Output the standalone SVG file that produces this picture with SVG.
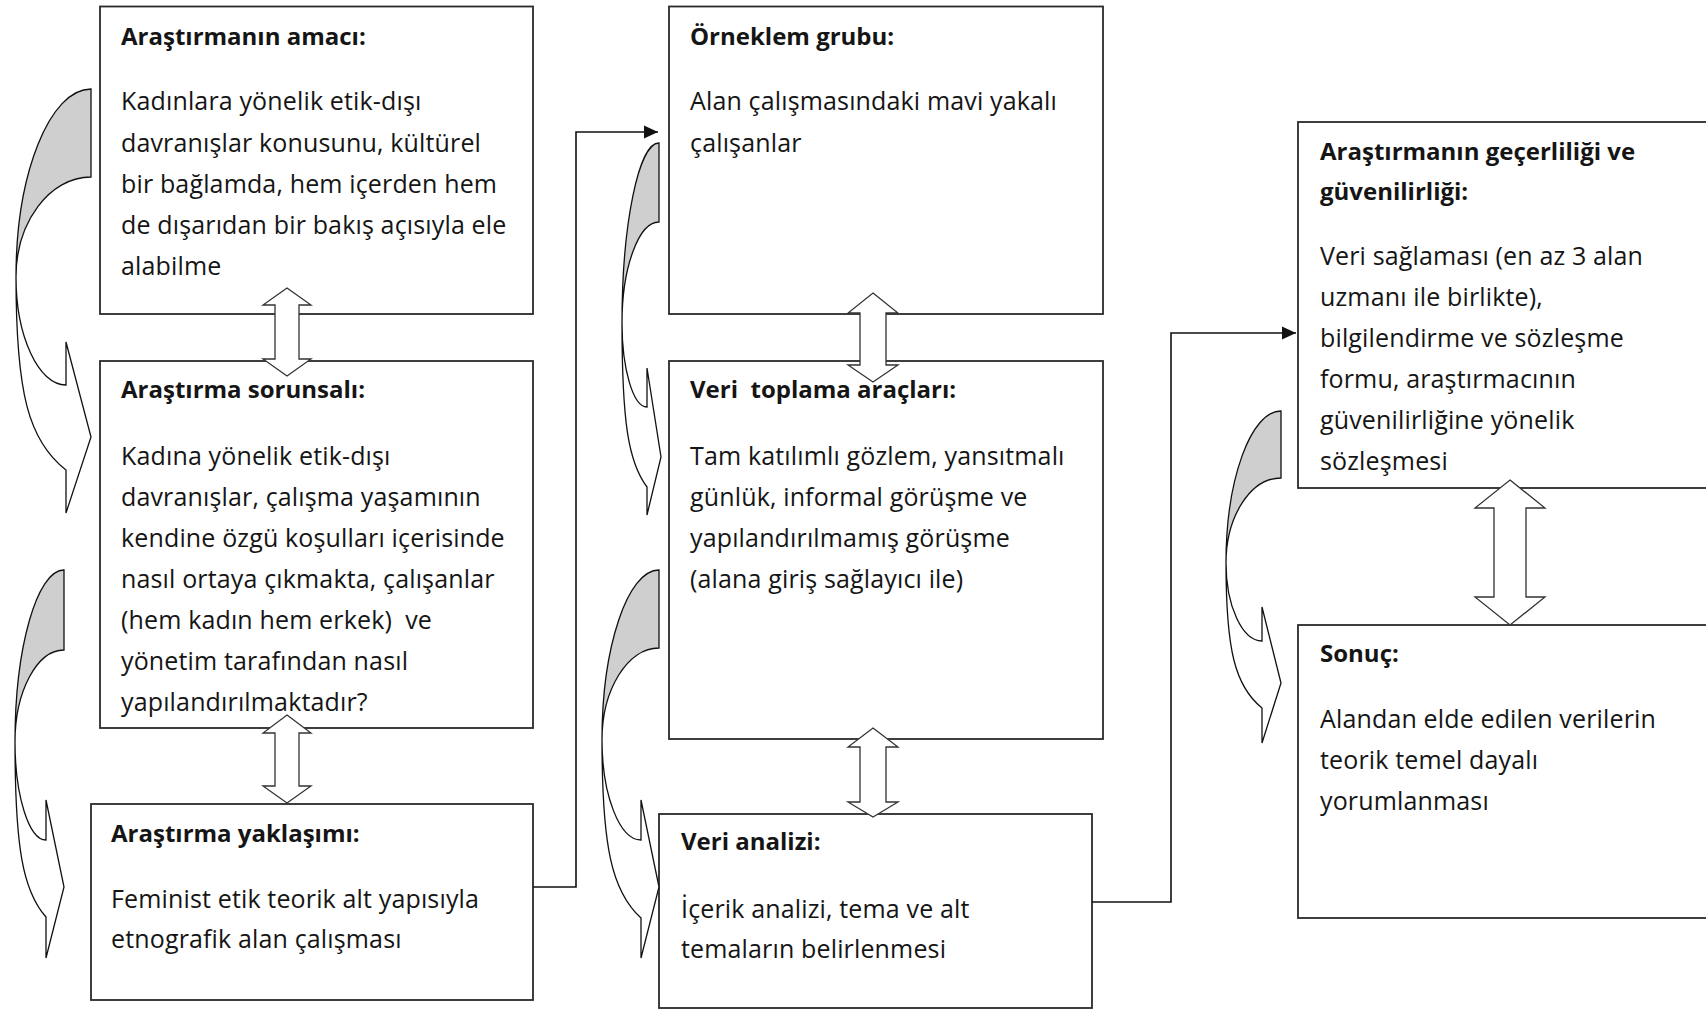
<svg xmlns="http://www.w3.org/2000/svg" width="1706" height="1010" viewBox="0 0 1706 1010">
<defs>
<style>
.box{fill:#fff;stroke:#2a2a2a;stroke-width:1.8}
.t{font-family:"Open Sans","Noto Sans",sans-serif;font-size:25px;letter-spacing:0.15px;fill:#151515;white-space:pre}
.b{font-weight:bold;font-size:24px;letter-spacing:0}
.dbl{fill:#fff;stroke:#333;stroke-width:1.3;stroke-linejoin:miter}
.cg{fill:#cfcfcf;stroke:#111;stroke-width:1.3}
.cw{fill:#fff;stroke:#111;stroke-width:1.3}
.ln{fill:none;stroke:#111;stroke-width:1.6}
</style>
<marker id="ah" markerUnits="userSpaceOnUse" markerWidth="14" markerHeight="14" refX="14" refY="7" orient="auto">
<path d="M0,0.5 L14,7 L0,13.5 Z" fill="#111"/>
</marker>
</defs>
<rect width="1706" height="1010" fill="#fff"/>

<g id="n1">
<rect class="box" x="100" y="6.5" width="433" height="307.5"/>
<text class="t b" x="121" y="45">Araştırmanın amacı:</text>
<text class="t" x="121" y="110">Kadınlara yönelik etik-dışı</text>
<text class="t" x="121" y="151.5">davranışlar konusunu, kültürel</text>
<text class="t" x="121" y="193">bir bağlamda, hem içerden hem</text>
<text class="t" x="121" y="234">de dışarıdan bir bakış açısıyla ele</text>
<text class="t" x="121" y="275">alabilme</text>
</g>
<g id="n2">
<rect class="box" x="100" y="361" width="433" height="367"/>
<text class="t b" x="121" y="398">Araştırma sorunsalı:</text>
<text class="t" x="121" y="465">Kadına yönelik etik-dışı</text>
<text class="t" x="121" y="506">davranışlar, çalışma yaşamının</text>
<text class="t" x="121" y="547">kendine özgü koşulları içerisinde</text>
<text class="t" x="121" y="588">nasıl ortaya çıkmakta, çalışanlar</text>
<text class="t" x="121" y="629">(hem kadın hem erkek)  ve</text>
<text class="t" x="121" y="670">yönetim tarafından nasıl</text>
<text class="t" x="121" y="711">yapılandırılmaktadır?</text>
</g>
<g id="n3">
<rect class="box" x="91" y="804" width="442" height="196"/>
<text class="t b" x="111" y="842">Araştırma yaklaşımı:</text>
<text class="t" x="111" y="908">Feminist etik teorik alt yapısıyla</text>
<text class="t" x="111" y="948">etnografik alan çalışması</text>
</g>
<g id="n4">
<rect class="box" x="669" y="6.5" width="434" height="307.5"/>
<text class="t b" x="690" y="45">Örneklem grubu:</text>
<text class="t" x="690" y="110">Alan çalışmasındaki mavi yakalı</text>
<text class="t" x="690" y="151.5">çalışanlar</text>
</g>
<g id="n5">
<rect class="box" x="669" y="361" width="434" height="378"/>
<text class="t b" x="690" y="398">Veri  toplama araçları:</text>
<text class="t" x="690" y="465">Tam katılımlı gözlem, yansıtmalı</text>
<text class="t" x="690" y="506">günlük, informal görüşme ve</text>
<text class="t" x="690" y="547">yapılandırılmamış görüşme</text>
<text class="t" x="690" y="588">(alana giriş sağlayıcı ile)</text>
</g>
<g id="n6">
<rect class="box" x="659" y="814" width="433" height="194"/>
<text class="t b" x="681" y="850">Veri analizi:</text>
<text class="t" x="681" y="918">İçerik analizi, tema ve alt</text>
<text class="t" x="681" y="958">temaların belirlenmesi</text>
</g>
<g id="n7">
<rect class="box" x="1298" y="122" width="420" height="366"/>
<text class="t b" x="1320" y="160">Araştırmanın geçerliliği ve</text>
<text class="t b" x="1320" y="200">güvenilirliği:</text>
<text class="t" x="1320" y="265">Veri sağlaması (en az 3 alan</text>
<text class="t" x="1320" y="306">uzmanı ile birlikte),</text>
<text class="t" x="1320" y="347">bilgilendirme ve sözleşme</text>
<text class="t" x="1320" y="388">formu, araştırmacının</text>
<text class="t" x="1320" y="429">güvenilirliğine yönelik</text>
<text class="t" x="1320" y="470">sözleşmesi</text>
</g>
<g id="n8">
<rect class="box" x="1298" y="625" width="420" height="293"/>
<text class="t b" x="1320" y="662">Sonuç:</text>
<text class="t" x="1320" y="728">Alandan elde edilen verilerin</text>
<text class="t" x="1320" y="769">teorik temel dayalı</text>
<text class="t" x="1320" y="810">yorumlanması</text>
</g>

<g id="connectors">
<path class="ln" d="M533,887 H576 V132 H658" marker-end="url(#ah)"/>
<path class="ln" d="M1092,902 H1171 V333 H1296" marker-end="url(#ah)"/>
<polygon class="dbl" points="287,288 311,305 299,305 299,359 311,359 287,376 263,359 275,359 275,305 263,305"/>
<polygon class="dbl" points="287,715 311,733 299,733 299,786 311,786 287,803 263,786 275,786 275,733 263,733"/>
<polygon class="dbl" points="873,293 898,313 886,313 886,365 898,365 873,382 848,365 860,365 860,313 848,313"/>
<polygon class="dbl" points="873,728 898,747 886,747 886,802 898,802 873,817 848,802 860,802 860,747 848,747"/>
<polygon class="dbl" points="1510,480 1545,508 1526,508 1526,597 1545,597 1510,625 1475,597 1494,597 1494,508 1475,508"/>
<g id="curve1">
<path class="cg" d="M91,89 C49.75,89 16,173.6 16,277 C16,222 49.75,177 91,177 Z"/>
<path class="cw" d="M16,277 C16,336.4 38.5,385 66,385 L66,342 L91,437 L66,513 L66,470 C28.5,441 16,393 16,277 Z"/>
</g>
<g id="curve2">
<path class="cg" d="M64,570 C37,570 15,647.4 15,742 C15,691.4 37,650 64,650 Z"/>
<path class="cw" d="M15,742 C15,795.9 29,840 46,840 L46,800 L64,887 L46,958 L46,917 C22.75,890.75 15,847 15,742 Z"/>
</g>
<g id="curve3">
<path class="cg" d="M659,143 C638.65,143 622,224 622,323 C622,267.45 638.65,222 659,222 Z"/>
<path class="cw" d="M622,323 C622,369.2 633.25,407 647,407 L647,368 L661,457 L647,515 L647,487 C628.25,462.4 622,421.4 622,323 Z"/>
</g>
<g id="curve4">
<path class="cg" d="M659,570 C627.65,570 602,646.5 602,740 C602,689.4 627.65,648 659,648 Z"/>
<path class="cw" d="M602,740 C602,795 619.55,840 641,840 L641,800 L659,887 L641,958 L641,918 C611.75,891.3 602,846.8 602,740 Z"/>
</g>
<g id="curve5">
<path class="cg" d="M1281,411 C1250.75,411 1226,479.4 1226,563 C1226,516.25 1250.75,478 1281,478 Z"/>
<path class="cw" d="M1226,563 C1226,605.9 1242.2,641 1262,641 L1262,607 L1281,683 L1262,743 L1262,708 C1235,686.25 1226,650 1226,563 Z"/>
</g>
</g>
</svg>
